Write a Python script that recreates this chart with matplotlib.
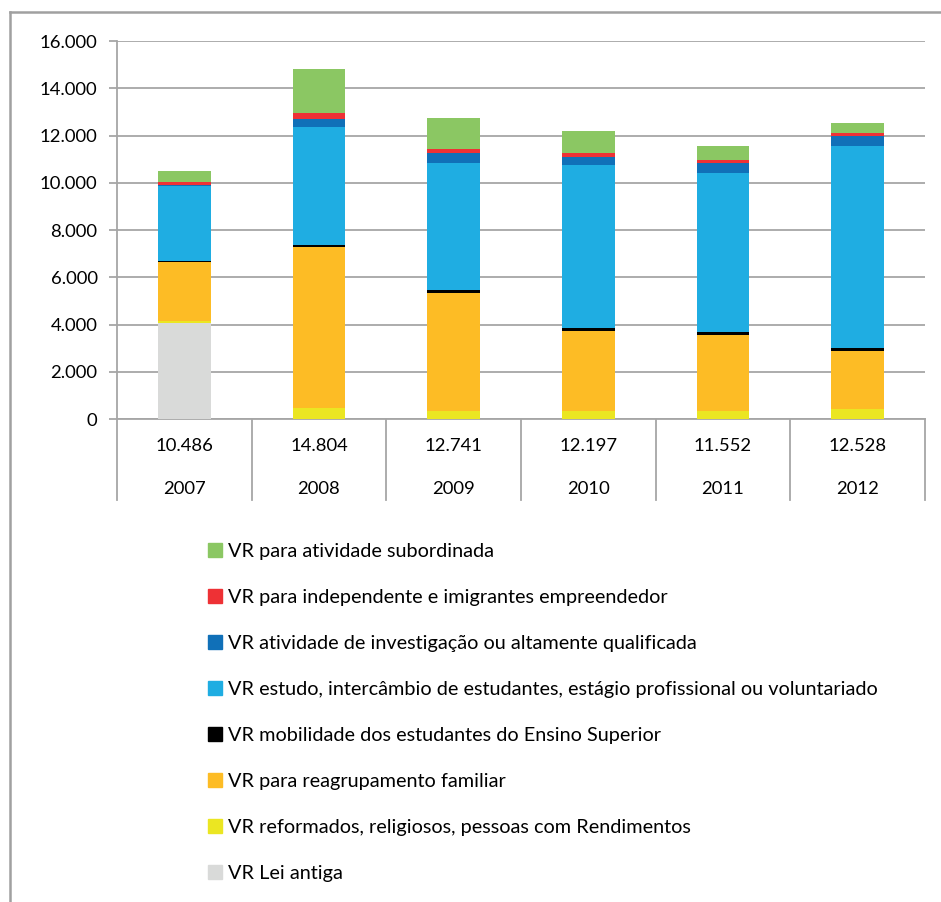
import matplotlib.pyplot as plt
from matplotlib.patches import Patch
from matplotlib.lines import Line2D

plt.rcParams['font.family'] = ['Lato', 'DejaVu Sans']

years = ['2007', '2008', '2009', '2010', '2011', '2012']
totals = ['10.486', '14.804', '12.741', '12.197', '11.552', '12.528']

# stacked from bottom to top
lei_antiga = [4050, 0, 0, 0, 0, 0]
reformados = [100, 480, 340, 340, 340, 420]
reagrupamento = [2500, 6810, 5005, 3397, 3230, 2460]
mobilidade = [30, 70, 110, 100, 100, 110]
estudo = [3200, 5010, 5395, 6913, 6750, 8580]
investigacao = [20, 310, 390, 350, 400, 420]
independente = [120, 270, 190, 160, 140, 130]
subordinada = [466, 1854, 1311, 937, 592, 408]

series = [
    ("VR Lei antiga", lei_antiga, "#d9dad9"),
    ("VR reformados, religiosos, pessoas com Rendimentos", reformados, "#ebe622"),
    ("VR para reagrupamento familiar", reagrupamento, "#fdbc25"),
    ("VR mobilidade dos estudantes do Ensino Superior", mobilidade, "#000000"),
    ("VR estudo, intercâmbio de estudantes, estágio profissional ou voluntariado", estudo, "#1fade2"),
    ("VR atividade de investigação ou altamente qualificada", investigacao, "#1070b8"),
    ("VR para independente e imigrantes empreendedor", independente, "#ee3135"),
    ("VR para atividade subordinada", subordinada, "#8bc763"),
]

W, H = 941, 902
fig = plt.figure(figsize=(W / 100, H / 100), dpi=100)
ax = fig.add_axes([117 / W, 1 - 419 / H, (925 - 117) / W, (419 - 41) / H])

grid_c = "#a6a6a6"
x = range(len(years))
bottom = [0] * len(years)
for name, vals, col in series:
    ax.bar(x, vals, 0.39, bottom=bottom, color=col, label=name, zorder=3)
    bottom = [b + v for b, v in zip(bottom, vals)]

ax.set_xlim(-0.5, 5.5)
ax.set_ylim(0, 16000)
ax.set_yticks(range(0, 16001, 2000))
ax.set_yticklabels([f"{v:,}".replace(",", ".") for v in range(0, 16001, 2000)], fontsize=13.3)
ax.yaxis.grid(True, color=grid_c, linewidth=1.3, zorder=0)
ax.tick_params(axis='y', length=6, color=grid_c, width=1.3, pad=8)
ax.set_xticks([])
for s in ['top', 'right']:
    ax.spines[s].set_visible(False)
for s in ['left', 'bottom']:
    ax.spines[s].set_color(grid_c)
    ax.spines[s].set_linewidth(1.3)

# table under the axis
tr = ax.get_xaxis_transform()
for b in [i - 0.5 for i in range(len(years) + 1)]:
    ax.plot([b, b], [0, -0.214], transform=tr, color=grid_c, linewidth=1.3, clip_on=False)
for i, (t, yr) in enumerate(zip(totals, years)):
    ax.text(i, -0.0714, t, transform=tr, ha='center', va='center', fontsize=13.3)
    ax.text(i, -0.185, yr, transform=tr, ha='center', va='center', fontsize=13.3)

# legend (top entry first)
handles = [Patch(color=c, label=n) for n, v, c in reversed(series)]
fig.legend(handles=handles, loc='upper left', bbox_to_anchor=(200 / W, 1 - 535 / H),
           frameon=False, fontsize=14.3, handlelength=0.7, handleheight=0.7,
           handletextpad=0.3, labelspacing=1.46, borderaxespad=0)

# outer frame
fig.add_artist(Line2D([10 / W, 1.0], [1 - 12 / H, 1 - 12 / H], color="#a0a0a0", linewidth=1.8))
fig.add_artist(Line2D([10 / W, 10 / W], [0, 1 - 12 / H], color="#a0a0a0", linewidth=1.8))

fig.savefig("out.png", dpi=100)
